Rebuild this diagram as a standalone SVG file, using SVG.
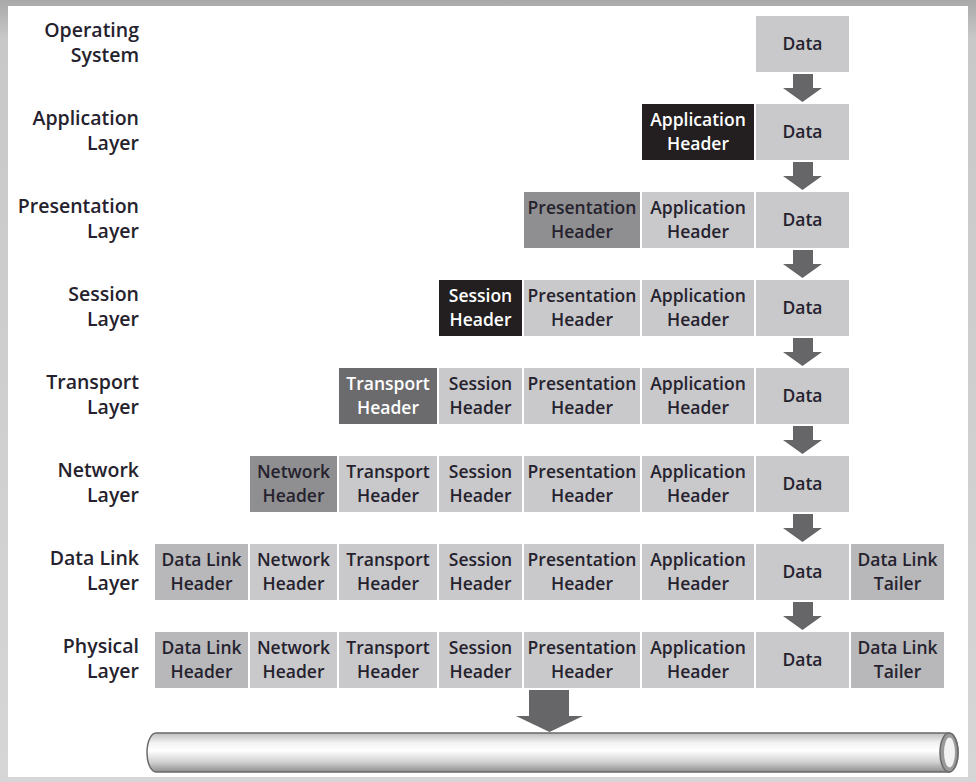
<svg xmlns="http://www.w3.org/2000/svg" width="976" height="782" viewBox="0 0 976 782">
<style>
  text { font-family: "Open Sans", "Noto Sans", "Liberation Sans", sans-serif; font-weight: 600; font-size: 17.5px; fill: #25222e; }
  .lbl { text-anchor: end; font-size: 19.5px; }
  .c { text-anchor: middle; }
  .w { fill: #ffffff; }
  .light { fill: #c9c9cb; }
  .dl { fill: #b8b8ba; }
  .mid { fill: #8f8f91; }
  .dark { fill: #6b6b6d; }
  .blk { fill: #231f20; }
  .arrow { fill: #666668; }
</style>
<defs>
  <linearGradient id="frame" x1="0" y1="0" x2="0" y2="1">
    <stop offset="0" stop-color="#a9a9a9"/>
    <stop offset="0.05" stop-color="#c8c8c8"/>
    <stop offset="1" stop-color="#d6d6d6"/>
  </linearGradient>
  <linearGradient id="pipe" x1="0" y1="0" x2="0" y2="1">
    <stop offset="0" stop-color="#bdbdbd"/>
    <stop offset="0.25" stop-color="#f2f2f2"/>
    <stop offset="0.45" stop-color="#ffffff"/>
    <stop offset="0.75" stop-color="#d0d0d0"/>
    <stop offset="1" stop-color="#8e8e8e"/>
  </linearGradient>
</defs>
<rect x="0" y="0" width="976" height="782" fill="url(#frame)"/>
<rect x="8" y="6" width="960" height="771" fill="#ffffff"/>

<g id="labels">
  <g id="label-os"><text class="lbl" x="139" y="37">Operating</text><text class="lbl" x="139" y="62">System</text></g>
  <g id="label-app"><text class="lbl" x="139" y="125">Application</text><text class="lbl" x="139" y="150">Layer</text></g>
  <g id="label-pres"><text class="lbl" x="139" y="213">Presentation</text><text class="lbl" x="139" y="238">Layer</text></g>
  <g id="label-sess"><text class="lbl" x="139" y="301">Session</text><text class="lbl" x="139" y="326">Layer</text></g>
  <g id="label-trans"><text class="lbl" x="139" y="389">Transport</text><text class="lbl" x="139" y="414">Layer</text></g>
  <g id="label-net"><text class="lbl" x="139" y="477">Network</text><text class="lbl" x="139" y="502">Layer</text></g>
  <g id="label-dl"><text class="lbl" x="139" y="565">Data Link</text><text class="lbl" x="139" y="590">Layer</text></g>
  <g id="label-phys"><text class="lbl" x="139" y="653">Physical</text><text class="lbl" x="139" y="678">Layer</text></g>
</g>

<!-- Row 0 -->
<g id="r0-data"><rect class="light" x="756" y="16" width="93" height="56"/><text class="c" x="802.5" y="50">Data</text></g>

<!-- Row 1 -->
<g id="r1-ah"><rect class="blk" x="642" y="104" width="112" height="56"/><text class="c w" x="698" y="126">Application</text><text class="c w" x="698" y="150">Header</text></g>
<g id="r1-data"><rect class="light" x="756" y="104" width="93" height="56"/><text class="c" x="802.5" y="138">Data</text></g>

<!-- Row 2 -->
<g id="r2-ph"><rect class="mid" x="524" y="192" width="116" height="56"/><text class="c" x="582" y="214">Presentation</text><text class="c" x="582" y="238">Header</text></g>
<g id="r2-ah"><rect class="light" x="642" y="192" width="112" height="56"/><text class="c" x="698" y="214">Application</text><text class="c" x="698" y="238">Header</text></g>
<g id="r2-data"><rect class="light" x="756" y="192" width="93" height="56"/><text class="c" x="802.5" y="226">Data</text></g>

<!-- Row 3 -->
<g id="r3-sh"><rect class="blk" x="439" y="280" width="83" height="56"/><text class="c w" x="480.5" y="302">Session</text><text class="c w" x="480.5" y="326">Header</text></g>
<g id="r3-ph"><rect class="light" x="524" y="280" width="116" height="56"/><text class="c" x="582" y="302">Presentation</text><text class="c" x="582" y="326">Header</text></g>
<g id="r3-ah"><rect class="light" x="642" y="280" width="112" height="56"/><text class="c" x="698" y="302">Application</text><text class="c" x="698" y="326">Header</text></g>
<g id="r3-data"><rect class="light" x="756" y="280" width="93" height="56"/><text class="c" x="802.5" y="314">Data</text></g>

<!-- Row 4 -->
<g id="r4-th"><rect class="dark" x="339" y="368" width="98" height="56"/><text class="c w" x="388" y="390">Transport</text><text class="c w" x="388" y="414">Header</text></g>
<g id="r4-sh"><rect class="light" x="439" y="368" width="83" height="56"/><text class="c" x="480.5" y="390">Session</text><text class="c" x="480.5" y="414">Header</text></g>
<g id="r4-ph"><rect class="light" x="524" y="368" width="116" height="56"/><text class="c" x="582" y="390">Presentation</text><text class="c" x="582" y="414">Header</text></g>
<g id="r4-ah"><rect class="light" x="642" y="368" width="112" height="56"/><text class="c" x="698" y="390">Application</text><text class="c" x="698" y="414">Header</text></g>
<g id="r4-data"><rect class="light" x="756" y="368" width="93" height="56"/><text class="c" x="802.5" y="402">Data</text></g>

<!-- Row 5 -->
<g id="r5-nh"><rect class="mid" x="250" y="456" width="87" height="56"/><text class="c" x="293.5" y="478">Network</text><text class="c" x="293.5" y="502">Header</text></g>
<g id="r5-th"><rect class="light" x="339" y="456" width="98" height="56"/><text class="c" x="388" y="478">Transport</text><text class="c" x="388" y="502">Header</text></g>
<g id="r5-sh"><rect class="light" x="439" y="456" width="83" height="56"/><text class="c" x="480.5" y="478">Session</text><text class="c" x="480.5" y="502">Header</text></g>
<g id="r5-ph"><rect class="light" x="524" y="456" width="116" height="56"/><text class="c" x="582" y="478">Presentation</text><text class="c" x="582" y="502">Header</text></g>
<g id="r5-ah"><rect class="light" x="642" y="456" width="112" height="56"/><text class="c" x="698" y="478">Application</text><text class="c" x="698" y="502">Header</text></g>
<g id="r5-data"><rect class="light" x="756" y="456" width="93" height="56"/><text class="c" x="802.5" y="490">Data</text></g>

<!-- Row 6 -->
<g id="r6-dlh"><rect class="dl" x="155" y="544" width="93" height="56"/><text class="c" x="201.5" y="566">Data Link</text><text class="c" x="201.5" y="590">Header</text></g>
<g id="r6-nh"><rect class="light" x="250" y="544" width="87" height="56"/><text class="c" x="293.5" y="566">Network</text><text class="c" x="293.5" y="590">Header</text></g>
<g id="r6-th"><rect class="light" x="339" y="544" width="98" height="56"/><text class="c" x="388" y="566">Transport</text><text class="c" x="388" y="590">Header</text></g>
<g id="r6-sh"><rect class="light" x="439" y="544" width="83" height="56"/><text class="c" x="480.5" y="566">Session</text><text class="c" x="480.5" y="590">Header</text></g>
<g id="r6-ph"><rect class="light" x="524" y="544" width="116" height="56"/><text class="c" x="582" y="566">Presentation</text><text class="c" x="582" y="590">Header</text></g>
<g id="r6-ah"><rect class="light" x="642" y="544" width="112" height="56"/><text class="c" x="698" y="566">Application</text><text class="c" x="698" y="590">Header</text></g>
<g id="r6-data"><rect class="light" x="756" y="544" width="93" height="56"/><text class="c" x="802.5" y="578">Data</text></g>
<g id="r6-tail"><rect class="dl" x="851" y="544" width="93" height="56"/><text class="c" x="897.5" y="566">Data Link</text><text class="c" x="897.5" y="590">Tailer</text></g>

<!-- Row 7 -->
<g id="r7-dlh"><rect class="dl" x="155" y="632" width="93" height="56"/><text class="c" x="201.5" y="654">Data Link</text><text class="c" x="201.5" y="678">Header</text></g>
<g id="r7-nh"><rect class="light" x="250" y="632" width="87" height="56"/><text class="c" x="293.5" y="654">Network</text><text class="c" x="293.5" y="678">Header</text></g>
<g id="r7-th"><rect class="light" x="339" y="632" width="98" height="56"/><text class="c" x="388" y="654">Transport</text><text class="c" x="388" y="678">Header</text></g>
<g id="r7-sh"><rect class="light" x="439" y="632" width="83" height="56"/><text class="c" x="480.5" y="654">Session</text><text class="c" x="480.5" y="678">Header</text></g>
<g id="r7-ph"><rect class="light" x="524" y="632" width="116" height="56"/><text class="c" x="582" y="654">Presentation</text><text class="c" x="582" y="678">Header</text></g>
<g id="r7-ah"><rect class="light" x="642" y="632" width="112" height="56"/><text class="c" x="698" y="654">Application</text><text class="c" x="698" y="678">Header</text></g>
<g id="r7-data"><rect class="light" x="756" y="632" width="93" height="56"/><text class="c" x="802.5" y="666">Data</text></g>
<g id="r7-tail"><rect class="dl" x="851" y="632" width="93" height="56"/><text class="c" x="897.5" y="654">Data Link</text><text class="c" x="897.5" y="678">Tailer</text></g>

<!-- Cable -->
<g id="cable">
  <path d="M156,733 H949 A9,19.5 0 0 1 949,772 H156 A9,19.5 0 0 1 156,733 Z" fill="url(#pipe)" stroke="#6a6a6a" stroke-width="1.5"/>
  <ellipse cx="949" cy="752.5" rx="9" ry="19.5" fill="#9a9a9a" stroke="#6a6a6a" stroke-width="1.5"/>
  <ellipse cx="949.5" cy="752.5" rx="5.5" ry="15" fill="#f2f2f2"/>
</g>

<g id="connectors">
  <path class="arrow" d="M793,74 H813 V88 H822 L802.5,102 L783,88 H793 Z"/>
  <path class="arrow" d="M793,162 H813 V176 H822 L802.5,190 L783,176 H793 Z"/>
  <path class="arrow" d="M793,250 H813 V264 H822 L802.5,278 L783,264 H793 Z"/>
  <path class="arrow" d="M793,338 H813 V352 H822 L802.5,366 L783,352 H793 Z"/>
  <path class="arrow" d="M793,426 H813 V440 H822 L802.5,454 L783,440 H793 Z"/>
  <path class="arrow" d="M793,514 H813 V528 H822 L802.5,542 L783,528 H793 Z"/>
  <path class="arrow" d="M793,602 H813 V616 H822 L802.5,630 L783,616 H793 Z"/>
  <path class="arrow" d="M529,690 H569 V716 H583 L549.5,732 L516,716 H529 Z"/>
</g>
</svg>
